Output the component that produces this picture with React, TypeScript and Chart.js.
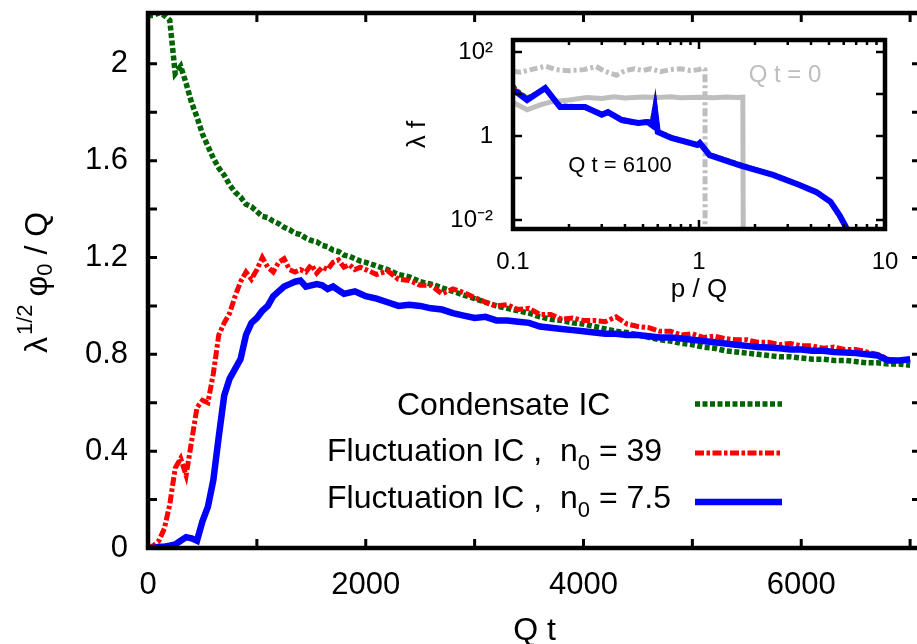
import React, { useEffect, useRef } from "react";
import { Chart, registerables } from "chart.js";
Chart.register(...registerables);

const FONT = '"Liberation Sans", Arial, Helvetica, sans-serif';

// ---------------- main chart data ----------------
const qt = [
  0, 50, 100, 150, 200, 250, 300, 350, 400, 450, 500, 550, 600, 650, 700, 750, 800, 850, 900, 950,
  1000, 1050, 1100, 1150, 1200, 1250, 1300, 1350, 1400, 1450, 1500, 1550, 1600, 1650, 1700, 1750, 1800, 1850, 1900, 1950,
  2000, 2100, 2200, 2300, 2400, 2500, 2600, 2700, 2800, 2900, 3000, 3100, 3200, 3300, 3400, 3500, 3600, 3700, 3800, 3900,
  4000, 4100, 4200, 4300, 4400, 4500, 4600, 4700, 4800, 4900, 5000, 5100, 5200, 5300, 5400, 5500, 5600, 5700, 5800, 5900,
  6000, 6100, 6200, 6300, 6400, 6500, 6600, 6700, 6800, 6900, 7000,
];
const condensate = [
  2.2, 2.2, 2.21, 2.2, 2.18, 1.96, 1.99, 1.92, 1.84, 1.78, 1.71, 1.66, 1.61, 1.57, 1.54, 1.5, 1.47, 1.45, 1.42, 1.41,
  1.39, 1.37, 1.365, 1.35, 1.34, 1.325, 1.315, 1.3, 1.295, 1.28, 1.27, 1.265, 1.25, 1.245, 1.23, 1.225, 1.21, 1.205, 1.195, 1.185,
  1.18, 1.165, 1.15, 1.13, 1.12, 1.1, 1.09, 1.075, 1.06, 1.045, 1.03, 1.015, 1.0, 0.99, 0.98, 0.97, 0.955, 0.945, 0.94, 0.93,
  0.925, 0.915, 0.905, 0.895, 0.89, 0.88, 0.87, 0.86, 0.855, 0.845, 0.84, 0.83, 0.825, 0.815, 0.81, 0.805, 0.8, 0.795, 0.79, 0.79,
  0.785, 0.78, 0.78, 0.775, 0.775, 0.77, 0.765, 0.765, 0.76, 0.76, 0.755,
];
const fluct39 = [
  0.0, 0.01, 0.03, 0.08, 0.18, 0.33, 0.37, 0.3, 0.44, 0.58, 0.61, 0.6, 0.72, 0.88, 0.93, 0.97, 1.04, 1.1, 1.14, 1.11,
  1.15, 1.2, 1.16, 1.14, 1.18, 1.195, 1.15, 1.14, 1.15, 1.14, 1.17, 1.135, 1.16, 1.15, 1.18, 1.19, 1.16, 1.17, 1.15, 1.16,
  1.15, 1.13, 1.145, 1.11, 1.105, 1.085, 1.085, 1.05, 1.07, 1.055, 1.035, 1.015, 1.0, 1.005, 0.985, 0.99, 0.965, 0.965, 0.945, 0.95,
  0.94, 0.94, 0.935, 0.955, 0.925, 0.915, 0.91, 0.895, 0.895, 0.88, 0.885, 0.87, 0.875, 0.865, 0.86, 0.86, 0.85, 0.85, 0.84, 0.845,
  0.835, 0.835, 0.825, 0.83, 0.82, 0.82, 0.81, 0.8, 0.78, 0.775, 0.78,
];
const fluct75 = [
  0.0, 0.0, 0.005, 0.005, 0.01, 0.015, 0.03, 0.045, 0.04, 0.03, 0.11, 0.17, 0.28, 0.46, 0.63, 0.7, 0.74, 0.78, 0.88, 0.93,
  0.95, 0.98, 1.0, 1.04, 1.06, 1.08, 1.09, 1.1, 1.105, 1.08, 1.085, 1.09, 1.085, 1.07, 1.08, 1.065, 1.05, 1.055, 1.06, 1.05,
  1.04, 1.03, 1.015, 1.0, 1.005, 1.0, 0.99, 0.985, 0.97, 0.96, 0.95, 0.955, 0.94, 0.94, 0.935, 0.93, 0.915, 0.91, 0.905, 0.9,
  0.895, 0.89, 0.885, 0.885, 0.88, 0.88, 0.875, 0.87, 0.87, 0.865, 0.86, 0.855, 0.85, 0.845, 0.84, 0.835, 0.83, 0.828, 0.825, 0.82,
  0.82, 0.815, 0.815, 0.81, 0.808, 0.805, 0.8, 0.795, 0.775, 0.775, 0.78,
];
const xTicks = [0, 2000, 4000, 6000];
const xTickLabels = ["0", "2000", "4000", "6000"];
const xTickMarks = [0, 1000, 2000, 3000, 4000, 5000, 6000, 7000];
const yTicks = [0, 0.4, 0.8, 1.2, 1.6, 2];
const yTickLabels = ["0", "0.4", "0.8", "1.2", "1.6", "2"];
const yTickMarks = [0, 0.2, 0.4, 0.6, 0.8, 1.0, 1.2, 1.4, 1.6, 1.8, 2.0];

type Seg = { text: string; sub?: boolean };
const legendRows: Seg[][] = [
  [{ text: "Condensate IC" }],
  [{ text: "Fluctuation IC ,  n" }, { text: "0", sub: true }, { text: " = 39" }],
  [{ text: "Fluctuation IC ,  n" }, { text: "0", sub: true }, { text: " = 7.5" }],
];

// ---------------- inset data ----------------
const pQ0dash = [0.1, 0.11, 0.125, 0.15, 0.17, 0.2, 0.24, 0.28, 0.31, 0.36, 0.4, 0.45, 0.5, 0.55, 0.62, 0.7, 0.8, 0.9, 1.0, 1.05, 1.077, 1.078];
const fQ0dash = [35, 33, 38, 46, 38, 36, 38, 45, 35, 28, 36, 40, 36, 40, 34, 38, 40, 36, 38, 42, 38, 0.003];
const pQ0solid = [0.1, 0.119, 0.14, 0.16, 0.2, 0.25, 0.3, 0.35, 0.4, 0.5, 0.6, 0.7, 0.8, 1.0, 1.2, 1.4, 1.6, 1.72, 1.73];
const fQ0solid = [6.3, 4.2, 5.5, 6.5, 7.2, 8.3, 7.8, 8.6, 8.0, 8.5, 8.2, 8.6, 8.1, 8.4, 8.1, 8.5, 8.2, 8.4, 0.003];
const pT = [0.1, 0.104, 0.119, 0.149, 0.179, 0.244, 0.3, 0.324, 0.385, 0.47, 0.53, 0.56, 0.58, 0.6, 0.71, 0.98, 1.01, 1.14, 1.66, 2.5, 3.47, 4.28, 5.1, 5.7, 6.1, 6.5];
const fCond = [16, 12.5, 8.0, 13, 5.3, 5.0, 3.3, 3.8, 2.3, 2.0, 2.3, 2.2, 5.6, 1.3, 0.93, 0.62, 0.67, 0.36, 0.21, 0.12, 0.069, 0.047, 0.027, 0.013, 0.0075, 0.004];
const f39 = [14, 12, 7.8, 13.5, 5.2, 4.7, 3.4, 3.6, 2.5, 2.1, 2.2, 2.0, 5.0, 1.3, 0.92, 0.6, 0.69, 0.36, 0.2, 0.12, 0.07, 0.045, 0.026, 0.012, 0.007, 0.004];
const f75 = [12, 11.2, 7.2, 13.9, 4.9, 4.9, 3.2, 3.7, 2.4, 2.04, 2.15, 1.8, 4.2, 1.25, 0.9, 0.61, 0.68, 0.35, 0.2, 0.118, 0.068, 0.046, 0.027, 0.013, 0.0075, 0.004];
const inXTicks = [0.1, 1, 10];
const inXTickLabels = ["0.1", "1", "10"];
const inXMinor = [0.2, 0.3, 0.4, 0.5, 0.6, 0.7, 0.8, 0.9, 2, 3, 4, 5, 6, 7, 8, 9];
const inYTicks = [0.01, 1, 100];
const inYTickLabels = ["10\u207B\u00B2", "1", "10\u00B2"];
const inYTickMarks = [0.01, 0.1, 1, 10, 100];

const GREEN = "#006400";
const RED = "#ff0000";
const BLUE = "#0000ff";
const GRAY = "#bebebe";

const noPad = (s: any) => {
  s.paddingTop = 0;
  s.paddingBottom = 0;
  s.paddingLeft = 0;
  s.paddingRight = 0;
};

const mainDecor = {
  id: "mainDecor",
  afterDatasetsDraw(chart: any) {
    const { ctx, chartArea: a, scales } = chart;
    const x = scales.x, y = scales.y;
    ctx.save();
    ctx.strokeStyle = "#000";
    ctx.setLineDash([]);
    ctx.lineWidth = 3;
    ctx.beginPath();
    for (const v of xTickMarks) {
      const px = x.getPixelForValue(v);
      ctx.moveTo(px, a.bottom); ctx.lineTo(px, a.bottom - 9);
      ctx.moveTo(px, a.top); ctx.lineTo(px, a.top + 9);
    }
    for (const v of yTickMarks) {
      const py = y.getPixelForValue(v);
      ctx.moveTo(a.left, py); ctx.lineTo(a.left + 9, py);
      ctx.moveTo(a.right, py); ctx.lineTo(a.right - 9, py);
    }
    ctx.stroke();
    ctx.lineWidth = 4.5;
    ctx.strokeRect(a.left, a.top, a.right - a.left, a.bottom - a.top);

    // legend
    const textX = [397, 327, 327];
    const baseY = [415, 461, 508];
    const lineY = [404, 453, 502];
    ctx.fillStyle = "#000";
    ctx.textBaseline = "alphabetic";
    ctx.textAlign = "left";
    legendRows.forEach((row, i) => {
      let cx = textX[i];
      for (const s of row) {
        ctx.font = s.sub ? `22px ${FONT}` : `32px ${FONT}`;
        ctx.fillText(s.text, cx, baseY[i] + (s.sub ? 9 : 0));
        cx += ctx.measureText(s.text).width;
      }
      const ds = chart.data.datasets[i];
      ctx.strokeStyle = ds.borderColor;
      ctx.lineWidth = ds.borderWidth;
      ctx.setLineDash(ds.borderDash || []);
      ctx.beginPath();
      ctx.moveTo(695, lineY[i]);
      ctx.lineTo(782, lineY[i]);
      ctx.stroke();
    });
    ctx.setLineDash([]);

    // y title
    ctx.save();
    ctx.translate(47, 353);
    ctx.rotate(-Math.PI / 2);
    ctx.fillStyle = "#000";
    const parts: { t: string; size: number; dy: number; gap?: number }[] = [
      { t: "\u03BB", size: 32, dy: 0 },
      { t: "1/2", size: 22, dy: -15, gap: 2 },
      { t: "\u03C6", size: 32, dy: 0, gap: 8 },
      { t: "0", size: 22, dy: 5 },
      { t: " / Q", size: 32, dy: 0 },
    ];
    let cx = 0;
    for (const p of parts) {
      cx += p.gap || 0;
      ctx.font = `${p.size}px ${FONT}`;
      ctx.fillText(p.t, cx, p.dy);
      cx += ctx.measureText(p.t).width;
    }
    ctx.restore();
    ctx.restore();
  },
};

const insetDecor = {
  id: "insetDecor",
  afterDatasetsDraw(chart: any) {
    const { ctx, chartArea: a, scales } = chart;
    const x = scales.x, y = scales.y;
    ctx.save();
    ctx.strokeStyle = "#000";
    ctx.setLineDash([]);
    ctx.lineWidth = 2.5;
    ctx.beginPath();
    for (const v of inXTicks) {
      const px = x.getPixelForValue(v);
      ctx.moveTo(px, a.bottom); ctx.lineTo(px, a.bottom - 9);
      ctx.moveTo(px, a.top); ctx.lineTo(px, a.top + 9);
    }
    for (const v of inXMinor) {
      const px = x.getPixelForValue(v);
      ctx.moveTo(px, a.bottom); ctx.lineTo(px, a.bottom - 5);
      ctx.moveTo(px, a.top); ctx.lineTo(px, a.top + 5);
    }
    for (const v of inYTickMarks) {
      const py = y.getPixelForValue(v);
      ctx.moveTo(a.left, py); ctx.lineTo(a.left + 9, py);
      ctx.moveTo(a.right, py); ctx.lineTo(a.right - 9, py);
    }
    ctx.stroke();
    ctx.lineWidth = 4.5;
    ctx.strokeRect(a.left, a.top, a.right - a.left, a.bottom - a.top);

    ctx.textAlign = "center";
    ctx.textBaseline = "middle";
    ctx.font = `24px ${FONT}`;
    ctx.fillStyle = GRAY;
    ctx.fillText("Q t = 0", 405, 50);
    ctx.font = `22px ${FONT}`;
    ctx.fillStyle = "#000";
    ctx.fillText("Q t = 6100", 240, 141);
    ctx.restore();
  },
};

export default function App() {
  const mainRef = useRef<HTMLCanvasElement>(null);
  const insetRef = useRef<HTMLCanvasElement>(null);

  useEffect(() => {
    const pts = (xs: number[], ys: number[]) => xs.map((v, i) => ({ x: v, y: ys[i] }));
    const main = new Chart(mainRef.current as HTMLCanvasElement, {
      type: "line",
      data: {
        datasets: [
          { label: "Condensate IC", data: pts(qt, condensate), borderColor: GREEN, borderWidth: 5.5, borderDash: [5, 2.5], pointRadius: 0, tension: 0, fill: false, order: 2 } as any,
          { label: "Fluctuation IC , n0 = 39", data: pts(qt, fluct39), borderColor: RED, borderWidth: 5, borderDash: [9, 2.5, 3.5, 2.5], pointRadius: 0, tension: 0, fill: false, order: 1 } as any,
          { label: "Fluctuation IC , n0 = 7.5", data: pts(qt, fluct75), borderColor: BLUE, borderWidth: 6.5, pointRadius: 0, tension: 0, fill: false, order: 0 } as any,
        ],
      },
      options: {
        responsive: false,
        animation: false,
        events: [],
        layout: { padding: { top: 13, right: 9, left: 0, bottom: 0 } },
        plugins: { legend: { display: false }, tooltip: { enabled: false } },
        scales: {
          x: {
            type: "linear",
            min: 0,
            max: 7100,
            grid: { display: false, drawTicks: false },
            border: { display: false },
            afterBuildTicks: (s: any) => { s.ticks = xTicks.map((v) => ({ value: v })); },
            afterFit: (s: any) => { s.height = 112; noPad(s); },
            ticks: {
              callback: (v: any) => xTickLabels[xTicks.indexOf(Number(v))],
              font: { family: FONT, size: 31 },
              color: "#000",
              padding: 19,
              maxRotation: 0,
              autoSkip: false,
            },
            title: { display: true, text: "Q t", font: { family: FONT, size: 32 }, color: "#000", padding: { top: 0, bottom: 10 } },
          },
          y: {
            type: "linear",
            min: 0,
            max: 2.21,
            grid: { display: false, drawTicks: false },
            border: { display: false },
            afterBuildTicks: (s: any) => { s.ticks = yTicks.map((v) => ({ value: v })); },
            afterFit: (s: any) => { s.width = 148; noPad(s); },
            ticks: {
              callback: (v: any) => yTickLabels[yTicks.indexOf(Number(v))],
              font: { family: FONT, size: 31 },
              color: "#000",
              padding: 20,
              autoSkip: false,
            },
          },
        },
      } as any,
      plugins: [mainDecor],
    });

    const inset = new Chart(insetRef.current as HTMLCanvasElement, {
      type: "line",
      data: {
        datasets: [
          { label: "Q t = 0 (n0 = 39)", data: pts(pQ0dash, fQ0dash), borderColor: GRAY, borderWidth: 5, borderDash: [8, 3, 3, 3], pointRadius: 0, tension: 0, fill: false, order: 4 } as any,
          { label: "Q t = 0 (n0 = 7.5)", data: pts(pQ0solid, fQ0solid), borderColor: GRAY, borderWidth: 5, pointRadius: 0, tension: 0, fill: false, order: 3 } as any,
          { label: "Condensate IC", data: pts(pT, fCond), borderColor: GREEN, borderWidth: 4.5, borderDash: [4, 2.5], pointRadius: 0, tension: 0, fill: false, order: 2 } as any,
          { label: "n0 = 39", data: pts(pT, f39), borderColor: RED, borderWidth: 4.5, borderDash: [7, 2, 3, 2], pointRadius: 0, tension: 0, fill: false, order: 1 } as any,
          { label: "n0 = 7.5", data: pts(pT, f75), borderColor: BLUE, borderWidth: 6, pointRadius: 0, tension: 0, fill: false, order: 0 } as any,
        ],
      },
      options: {
        responsive: false,
        animation: false,
        events: [],
        layout: { padding: { top: 15, right: 15, left: 0, bottom: 0 } },
        plugins: { legend: { display: false }, tooltip: { enabled: false } },
        scales: {
          x: {
            type: "logarithmic",
            min: 0.1,
            max: 10,
            grid: { display: false, drawTicks: false },
            border: { display: false },
            afterBuildTicks: (s: any) => { s.ticks = inXTicks.map((v) => ({ value: v })); },
            afterFit: (s: any) => { s.height = 86; noPad(s); },
            ticks: {
              callback: (v: any) => inXTickLabels[inXTicks.indexOf(Number(v))],
              font: { family: FONT, size: 24 },
              color: "#000",
              padding: 19,
              maxRotation: 0,
              autoSkip: false,
            },
            title: { display: true, text: "p / Q", font: { family: FONT, size: 26 }, color: "#000", padding: { top: 0, bottom: 10 } },
          },
          y: {
            type: "logarithmic",
            min: 0.0061,
            max: 193,
            grid: { display: false, drawTicks: false },
            border: { display: false },
            afterBuildTicks: (s: any) => { s.ticks = inYTicks.map((v) => ({ value: v })); },
            afterFit: (s: any) => { s.width = 133; noPad(s); },
            ticks: {
              callback: (v: any) => inYTickLabels[inYTicks.indexOf(Number(v))],
              font: { family: FONT, size: 24 },
              color: "#000",
              padding: 20,
              autoSkip: false,
            },
            title: { display: true, text: "\u03BB f", font: { family: FONT, size: 26 }, color: "#000", padding: { top: 22, bottom: 0 } },
          },
        },
      } as any,
      plugins: [insetDecor],
    });

    return () => {
      main.destroy();
      inset.destroy();
    };
  }, []);

  return (
    <div style={{ position: "fixed", left: 0, top: 0, width: 917, height: 644, overflow: "hidden", background: "#fff" }}>
      <canvas ref={mainRef} width={930} height={660} style={{ position: "absolute", left: 0, top: 0, width: 930, height: 660 }} />
      <canvas ref={insetRef} width={520} height={290} style={{ position: "absolute", left: 380, top: 25, width: 520, height: 290 }} />
    </div>
  );
}
